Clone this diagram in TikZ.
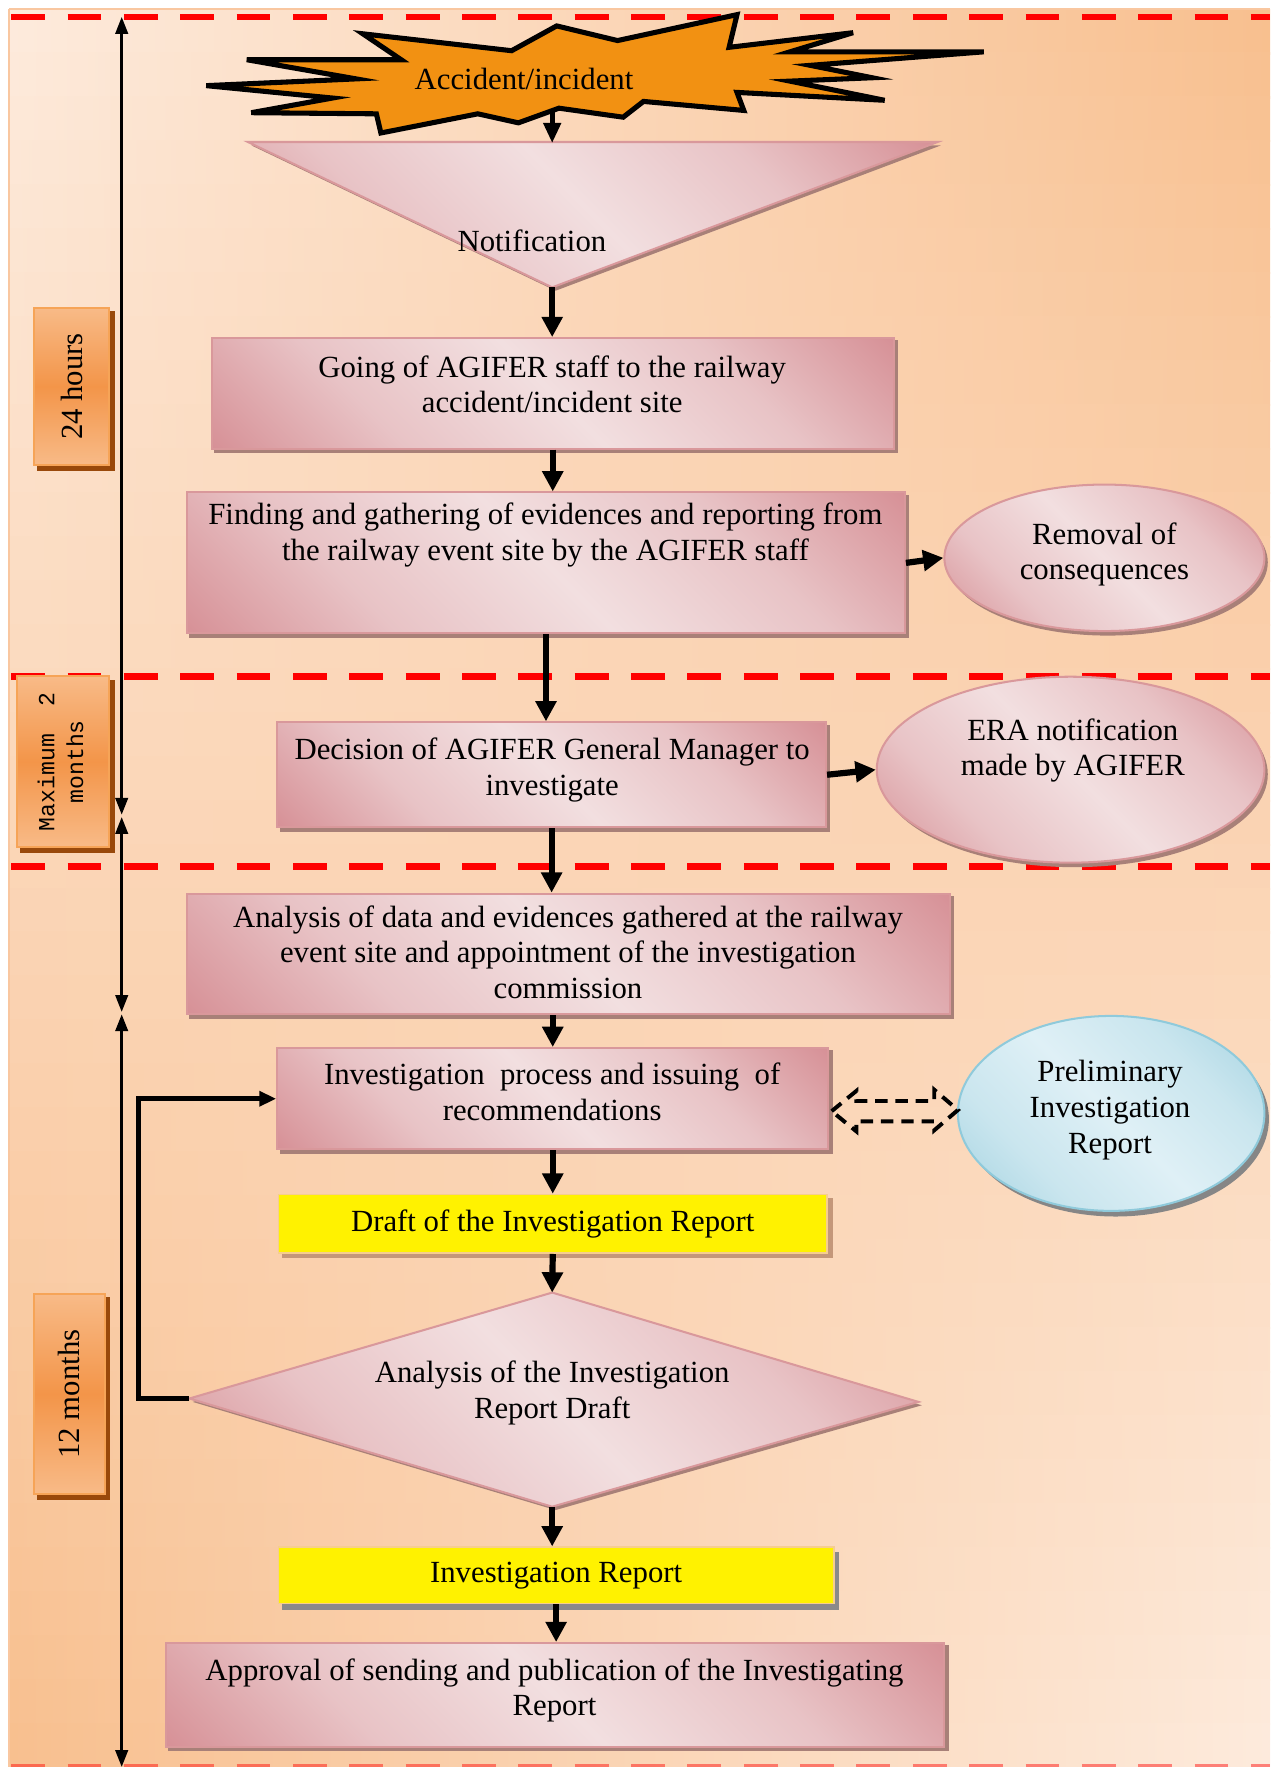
\documentclass[tikz,border=0pt]{standalone}
\usepackage{fontspec}
\setmainfont{Liberation Serif}
\newfontfamily\monofont{Liberation Mono}
\usetikzlibrary{arrows.meta,shapes.geometric}
\definecolor{bgL}{HTML}{FDEBDD}
\definecolor{bgO}{HTML}{F8BF8E}
\definecolor{bgEdge}{HTML}{F9C7A0}
\definecolor{pkD}{HTML}{D68F95}
\definecolor{pkL}{HTML}{F2DFE0}
\definecolor{pkB}{HTML}{D9989B}
\definecolor{pkS}{HTML}{A88078}
\definecolor{blD}{HTML}{A2D2E0}
\definecolor{blL}{HTML}{DFF0F6}
\definecolor{blB}{HTML}{8FCADB}
\definecolor{orL}{HTML}{F9C294}
\definecolor{orD}{HTML}{F39549}
\definecolor{orB}{HTML}{F6A457}
\definecolor{orS}{HTML}{99490B}
\definecolor{starO}{HTML}{F29112}
\definecolor{yelB}{HTML}{F6CE8E}
\definecolor{yelS}{HTML}{8A8A8A}
\definecolor{yelS2}{HTML}{C4977A}
\pgfdeclareverticalshading{pinksh}{100bp}{color(0bp)=(pkD); color(14bp)=(pkD); color(32bp)=(pkD!35!pkL); color(50bp)=(pkL); color(68bp)=(pkD!35!pkL); color(86bp)=(pkD); color(100bp)=(pkD)}
\pgfdeclareverticalshading{bluesh}{100bp}{color(0bp)=(blD); color(14bp)=(blD); color(32bp)=(blD!35!blL); color(50bp)=(blL); color(68bp)=(blD!35!blL); color(86bp)=(blD); color(100bp)=(blD)}
\pgfdeclareverticalshading{orsh}{100bp}{color(0bp)=(orL); color(20bp)=(orL); color(50bp)=(orD); color(80bp)=(orL); color(100bp)=(orL)}
\pgfdeclarelayer{bglayer}
\pgfdeclarelayer{shadowlayer}
\pgfsetlayers{bglayer,shadowlayer,main}
\newcommand\boxshadow[4]{\fill[#2] ([shift={(#3,#4)}]#1.north west) rectangle ([shift={(#3,#4)}]#1.south east);}
\begin{document}
\begin{tikzpicture}[x=1pt,y=-1pt,
  font=\fontsize{27.3}{31.7}\selectfont,
  every node/.style={align=center, inner sep=0pt},
  pinkfill/.style={draw=pkB, line width=1.8pt, shade, shading=pinksh, shading angle=-45},
  pinkbox/.style={pinkfill, rectangle},
  pinkell/.style={pinkfill, ellipse},
  blueell/.style={ellipse, draw=blB, line width=1.8pt, shade, shading=bluesh, shading angle=-45},
  lblbox/.style={rectangle, draw=orB, line width=1.8pt, shade, shading=orsh},
  yelbox/.style={rectangle, draw=yelB, line width=1.5pt, fill=yellow},
  reddash/.style={red, line width=6pt, dash pattern=on 30pt off 20pt},
  flow/.style={line width=5.5pt, -{Triangle[length=18pt,width=18pt]}},
  flowsmall/.style={line width=4.5pt, -{Triangle[length=18pt,width=15pt]}},
  tline/.style={line width=2.5pt, {Triangle[length=15pt,width=11pt]}-{Triangle[length=15pt,width=11pt]}},
  fback/.style={line width=4pt, -{Triangle[length=15pt,width=13pt]}}
]
\useasboundingbox (0,0) rectangle (1127,1568);
\begin{pgfonlayer}{bglayer}
% background: bilinear gradient built from horizontal strips
\foreach \i in {0,...,39}{
  \pgfmathsetmacro{\p}{100*(1-(\i+0.5)/40)}
  \pgfmathsetmacro{\ya}{8+\i*39}
  \pgfmathsetmacro{\yb}{8+(\i+1)*39+1}
  \fill[left color=bgL!\p!bgO, right color=bgO!\p!bgL] (8,\ya) rectangle (1127,\yb);
}
\draw[bgEdge, line width=1.5pt] (8,8) -- (8,1568);
\draw[bgEdge, line width=1.5pt] (8,8) -- (1127,8);
% red dashed separators
\draw[reddash] (10,15) -- (1127,15);
\draw[reddash] (10,600) -- (1127,600);
\draw[reddash] (10,769) -- (1127,769);
\draw[red, opacity=0.45, line width=4pt, dash pattern=on 30pt off 20pt] (10,1567) -- (1127,1567);
% timeline
\coordinate (t0) at (108,15);
\coordinate (t1) at (108,723);
\coordinate (t2) at (108,725);
\coordinate (t3) at (108,898);
\coordinate (t4) at (108,900);
\coordinate (t5) at (108,1568);
\draw[tline] (t0) -- (t1);
\draw[tline] (t2) -- (t3);
\draw[tline] (t4) -- (t5);
\end{pgfonlayer}
% period labels
\node[lblbox, minimum width=67, minimum height=140] (l24) at (63.5,343) {\rotatebox{90}{24 hours}};
\node[lblbox, minimum width=82, minimum height=152] (l2m) at (56,676) {\rotatebox{90}{\monofont\fontsize{20.5}{25.5}\selectfont\begin{tabular}{@{}c@{}}Maximum~~2\\months\end{tabular}}};
\node[lblbox, minimum width=63, minimum height=178] (l12) at (61.5,1237) {\rotatebox{90}{12 months}};
% accident star
\draw[line width=4.5pt, fill=starO, line join=miter]
 (183,76) -- (316,70) -- (219,53) -- (356,53) -- (322,30) -- (454,45) -- (494,23) -- (548,36)
 -- (654,13) -- (647,42) -- (757,29) -- (701,46) -- (873,46) -- (719,58) -- (774,69) -- (701,72)
 -- (785,89) -- (654,82) -- (660,98) -- (571,90) -- (553,104) -- (496,96) -- (460,109) -- (424,101)
 -- (338,118) -- (334,101) -- (223,100) -- (295,87) -- cycle;
\node (acc) at (465,70) {Accident/incident};
\coordinate (accb) at (490,98);
% notification triangle
\coordinate (n1) at (220,126);
\coordinate (n2) at (832,126);
\coordinate (n3) at (490,255);
\coordinate (ntop) at (490,127);
\path[pinkfill] (n1) -- (n2) -- (n3) -- cycle;
\node (notif) at (472,214) {Notification};
% boxes
\node[pinkbox, minimum width=605, minimum height=98] (b1) at (490.5,349) {};
\node (b1t) at (490,341) {Going of AGIFER staff to the railway\\accident/incident site};
\node[pinkbox, minimum width=637, minimum height=125] (b2) at (484.5,499.5) {};
\node (b2t) at (484,475) {Finding and gathering of evidences and reporting from\\the railway event site by the AGIFER staff};
\node[pinkell, minimum width=284, minimum height=130] (e1) at (980,495) {};
\node (e1t) at (980,492) {Removal of\\consequences};
\node[pinkbox, minimum width=487, minimum height=93] (b3) at (489.5,687.5) {};
\node (b3t) at (490,683) {Decision of AGIFER General Manager to\\investigate};
\node[pinkell, minimum width=344, minimum height=165] (e2) at (950,683) {};
\node (e2t) at (952,666) {ERA notification\\made by AGIFER};
\node[pinkbox, minimum width=677, minimum height=107] (b4) at (504.5,846.5) {};
\node (b4t) at (504,845) {Analysis of data and evidences gathered at the railway\\event site and appointment of the investigation\\commission};
\node[pinkbox, minimum width=489, minimum height=90] (b5) at (490.5,975) {};
\node (b5t) at (490,969) {Investigation~ process and issuing~ of\\recommendations};
\node[blueell, minimum width=272, minimum height=173] (e3) at (986,988) {};
\node (e3t) at (985,985) {Preliminary\\Investigation\\Report};
\node[yelbox, minimum width=487, minimum height=52] (y1) at (490.5,1086) {Draft of the Investigation Report};
% diamond
\coordinate (dtop) at (490,1147);
\coordinate (dleft) at (168,1241);
\coordinate (dright) at (815,1244);
\coordinate (dbot) at (490,1337);
\path[pinkfill] (dtop) -- (dright) -- (dbot) -- (dleft) -- cycle;
\node (dtxt) at (490,1236) {Analysis of the Investigation\\Report Draft};
\node[yelbox, minimum width=493, minimum height=50] (y2) at (493.5,1398) {Investigation Report};
\node[pinkbox, minimum width=691, minimum height=92] (b6) at (492.5,1504) {};
\node (b6t) at (492,1500) {Approval of sending and publication of the Investigating\\Report};
% shadows (drawn beneath)
\begin{pgfonlayer}{shadowlayer}
\boxshadow{l24}{orS}{4}{4}
\boxshadow{l2m}{orS}{4}{4}
\boxshadow{l12}{orS}{4}{4}
\fill[pkS] ([shift={(3,3)}]n1) -- ([shift={(3,3)}]n2) -- ([shift={(3,3)}]n3) -- cycle;
\boxshadow{b1}{pkS}{3}{3}
\boxshadow{b2}{pkS}{3}{3}
\fill[pkS] ([shift={(3,4)}]e1.center) ellipse [x radius=142, y radius=65];
\boxshadow{b3}{pkS}{3}{3}
\fill[pkS] ([shift={(3,4)}]e2.center) ellipse [x radius=172, y radius=82.5];
\boxshadow{b4}{pkS}{3}{3}
\boxshadow{b5}{pkS}{3}{3}
\fill[gray!95] ([shift={(4,5)}]e3.center) ellipse [x radius=136, y radius=86.5];
\boxshadow{y1}{yelS2}{4}{4}
\fill[pkS] ([shift={(3,3)}]dtop) -- ([shift={(3,3)}]dright) -- ([shift={(3,3)}]dbot) -- ([shift={(3,3)}]dleft) -- cycle;
\boxshadow{y2}{yelS}{4}{5}
\boxshadow{b6}{pkS}{3}{3}
\end{pgfonlayer}
% dashed double arrow
\draw[line width=3.5pt, dash pattern=on 11pt off 7pt, line join=miter]
 (738,986) -- (760,968) -- (760,977) -- (829,977) -- (829,967) -- (850,985) -- (829,1003) -- (829,995)
 -- (760,995) -- (760,1004) -- cycle;
% connectors
\draw[flowsmall] (accb) -- (ntop);
\draw[flow] (n3) -- (n3 |- b1.north);
\draw[flow] (b1.south) -- (b1.south |- b2.north);
\draw[flow] (b2.east) -- (e1.west);
\draw[flow] (b2.south) -- (b2.south |- b3.north);
\draw[flow] (b3.east) -- (e2.west);
\draw[flow] (b3.south) -- (b3.south |- b4.north);
\draw[flow] (b5.north |- b4.south) -- (b5.north);
\draw[flow] (b5.south) -- (b5.south |- y1.north);
\draw[flow] (y1.south) -- (dtop);
\draw[flow] (dbot) -- (dbot |- y2.north);
\draw[flow] (y2.south) -- (y2.south |- b6.north);
\draw[fback] (dleft) -- ++(-45,0) |- (b5.west);
\end{tikzpicture}
\end{document}
